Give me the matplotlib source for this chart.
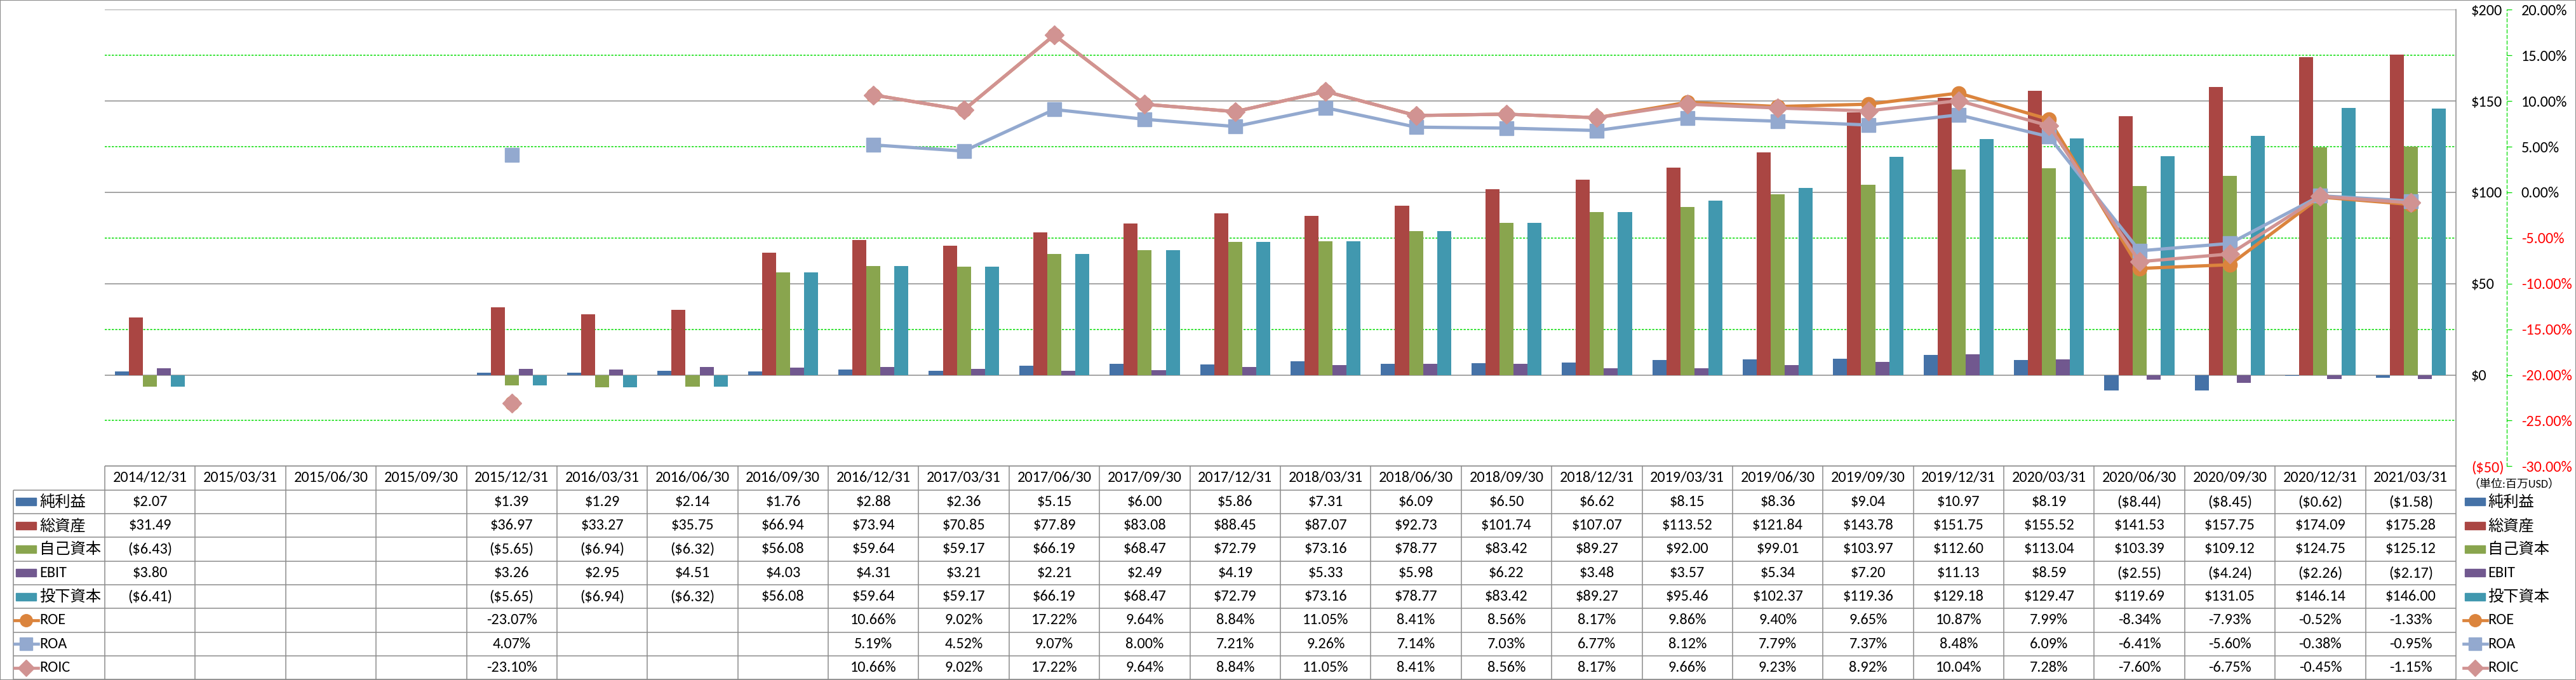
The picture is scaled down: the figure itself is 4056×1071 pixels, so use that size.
import numpy as np
import matplotlib
matplotlib.use("Agg")
import matplotlib.pyplot as plt
from matplotlib import font_manager
from matplotlib.lines import Line2D
from matplotlib.patches import Rectangle

nan = np.nan

dates = ["2014/12/31", "2015/03/31", "2015/06/30", "2015/09/30", "2015/12/31",
         "2016/03/31", "2016/06/30", "2016/09/30", "2016/12/31", "2017/03/31",
         "2017/06/30", "2017/09/30", "2017/12/31", "2018/03/31", "2018/06/30",
         "2018/09/30", "2018/12/31", "2019/03/31", "2019/06/30", "2019/09/30",
         "2019/12/31", "2020/03/31", "2020/06/30", "2020/09/30", "2020/12/31",
         "2021/03/31"]

# millions of USD
net_income = [2.07, nan, nan, nan, 1.39, 1.29, 2.14, 1.76, 2.88, 2.36, 5.15, 6.00, 5.86,
              7.31, 6.09, 6.50, 6.62, 8.15, 8.36, 9.04, 10.97, 8.19, -8.44, -8.45, -0.62, -1.58]
total_assets = [31.49, nan, nan, nan, 36.97, 33.27, 35.75, 66.94, 73.94, 70.85, 77.89, 83.08,
                88.45, 87.07, 92.73, 101.74, 107.07, 113.52, 121.84, 143.78, 151.75, 155.52,
                141.53, 157.75, 174.09, 175.28]
equity = [-6.43, nan, nan, nan, -5.65, -6.94, -6.32, 56.08, 59.64, 59.17, 66.19, 68.47, 72.79,
          73.16, 78.77, 83.42, 89.27, 92.00, 99.01, 103.97, 112.60, 113.04, 103.39, 109.12,
          124.75, 125.12]
ebit = [3.80, nan, nan, nan, 3.26, 2.95, 4.51, 4.03, 4.31, 3.21, 2.21, 2.49, 4.19, 5.33, 5.98,
        6.22, 3.48, 3.57, 5.34, 7.20, 11.13, 8.59, -2.55, -4.24, -2.26, -2.17]
invested = [-6.41, nan, nan, nan, -5.65, -6.94, -6.32, 56.08, 59.64, 59.17, 66.19, 68.47, 72.79,
            73.16, 78.77, 83.42, 89.27, 95.46, 102.37, 119.36, 129.18, 129.47, 119.69, 131.05,
            146.14, 146.00]

# percent
roe = [nan, nan, nan, nan, -23.07, nan, nan, nan, 10.66, 9.02, 17.22, 9.64, 8.84, 11.05, 8.41,
       8.56, 8.17, 9.86, 9.40, 9.65, 10.87, 7.99, -8.34, -7.93, -0.52, -1.33]
roa = [nan, nan, nan, nan, 4.07, nan, nan, nan, 5.19, 4.52, 9.07, 8.00, 7.21, 9.26, 7.14,
       7.03, 6.77, 8.12, 7.79, 7.37, 8.48, 6.09, -6.41, -5.60, -0.38, -0.95]
roic = [nan, nan, nan, nan, -23.10, nan, nan, nan, 10.66, 9.02, 17.22, 9.64, 8.84, 11.05, 8.41,
        8.56, 8.17, 9.66, 9.23, 8.92, 10.04, 7.28, -7.60, -6.75, -0.45, -1.15]

bar_names = ["純利益", "総資産", "自己資本", "EBIT", "投下資本"]
line_names = ["ROE", "ROA", "ROIC"]
money_ticks = [-50, 0, 50, 100, 150, 200]
pct_ticks = [-30, -25, -20, -15, -10, -5, 0, 5, 10, 15, 20]
unit_label = "（単位:百万USD）"

bar_colors = ["#4572A7", "#AA4643", "#89A54E", "#71588F", "#4198AF"]
line_colors = ["#DB843D", "#93A9CF", "#D19392"]
line_markers = ["o", "s", "D"]
marker_sizes = [16, 16, 15]
GRAY = "#8C8C8C"
LIME = "#00DD00"

# font: Calibri look-alike if present
try:
    font_manager.findfont("Carlito", fallback_to_default=False)
    BASE, FS = "Carlito", 17.5
except ValueError:
    BASE, FS = "Liberation Sans", 16
plt.rcParams["font.family"] = [BASE, "Noto Sans CJK JP", "DejaVu Sans"]
plt.rcParams["text.parse_math"] = False

# layout in pixels of the 4056x1071 picture
W, H = 4056, 1071
PLOT_L, PLOT_R, PLOT_T, PLOT_B = 165, 3867, 15.3, 734.3
TAB_B = 1070.3
LAB_L = 20.7

n = len(dates)
x = np.arange(n)
cat_w = (PLOT_R - PLOT_L) / n


def px_to_x(px):
    return (px - PLOT_L) / cat_w - 0.5


def money(v):
    if np.isnan(v):
        return ""
    return f"(${-v:.2f})" if v < 0 else f"${v:.2f}"


def pct(v):
    return "" if np.isnan(v) else f"{v:.2f}%"


fig = plt.figure(figsize=(W / 100, H / 100), dpi=100)
ax = fig.add_axes([PLOT_L / W, 1 - PLOT_B / H, (PLOT_R - PLOT_L) / W, (PLOT_B - PLOT_T) / H])
ax2 = ax.twinx()

# ── bars (left $ scale, labels drawn on the right) ──────────────────
bar_series = [net_income, total_assets, equity, ebit, invested]
bw = 0.155
for k, (vals, color) in enumerate(zip(bar_series, bar_colors)):
    ax.bar(x + (k - 2) * bw, vals, width=bw, color=color, zorder=2)

ax.set_xlim(-0.5, n - 0.5)
ax.set_ylim(-50, 200)
ax.set_xticks([])
ax.set_yticks(money_ticks, labels=[money(v).replace(".00", "") for v in money_ticks])
ax.set_yticks([-25, 25, 75, 125, 175], minor=True)
ax.yaxis.tick_right()
ax.tick_params(axis="y", which="both", length=0, pad=17.3, labelsize=FS)
ax.grid(which="major", axis="y", color=GRAY, lw=1.1)
ax.grid(which="minor", axis="y", color=LIME, lw=1.1, ls=(0, (2.2, 1.4)))
ax.set_axisbelow(True)
for side in ["left", "top", "bottom"]:
    ax.spines[side].set_visible(False)
ax.spines["right"].set_color(GRAY)
ax.spines["right"].set_linewidth(1.1)
for tick, v in zip(ax.yaxis.get_major_ticks(), money_ticks):
    tick.label1.set_color("red" if v < 0 else "black")
    tick.label2.set_color("red" if v < 0 else "black")

# ── lines (right % scale) ───────────────────────────────────────────
for vals, color, mk, ms in zip([roe, roa, roic], line_colors, line_markers, marker_sizes):
    ax2.plot(x, vals, color=color, lw=3.7, marker=mk, ms=ms, mec=color, mfc=color, zorder=3)
ax2.set_ylim(-30, 20)
ax2.set_yticks(pct_ticks, labels=[f"{v:.2f}%" for v in pct_ticks])
for side in ["left", "top", "bottom"]:
    ax2.spines[side].set_visible(False)
ax2.spines["right"].set_position(("outward", 57.4))
ax2.spines["right"].set_color(LIME)
ax2.spines["right"].set_linestyle((0, (4, 3)))
ax2.spines["right"].set_linewidth(0.9)
ax2.tick_params(axis="y", direction="out", length=5.5, width=0.9, color=LIME, pad=11, labelsize=FS)
for tick, v in zip(ax2.yaxis.get_major_ticks(), pct_ticks):
    tick.label2.set_color("red" if v < 0 else "black")

# ── data table under the plot ───────────────────────────────────────
tab = fig.add_axes([0, 1 - TAB_B / H, 1, (TAB_B - PLOT_B) / H])
tab.set_xlim(px_to_x(0), px_to_x(W))
tab.set_ylim(9, 0)
tab.axis("off")

left, right = -0.5, n - 0.5
lab_left = px_to_x(LAB_L)
line_kw = dict(color=GRAY, lw=1.1, clip_on=False)
tab.hlines(0, left, right, **line_kw)
tab.hlines(np.arange(1, 10), lab_left, right, **line_kw)
tab.vlines(np.arange(n + 1) - 0.5, 0, 9, **line_kw)
tab.vlines(lab_left, 1, 9, **line_kw)

for i, d in enumerate(dates):
    tab.text(i, 0.5, d, ha="center", va="center", fontsize=FS)

rows = [[money(v) for v in s] for s in bar_series] + [[pct(v) for v in s] for s in [roe, roa, roic]]
for r, cells in enumerate(rows):
    for i, s in enumerate(cells):
        tab.text(i, r + 1.5, s, ha="center", va="center", fontsize=FS)


def legend_key(r, key_l, text_x):
    yc = r + 1.5
    if r < len(bar_names):
        x0, x1 = px_to_x(key_l), px_to_x(key_l + 32)
        tab.add_patch(Rectangle((x0, yc - 0.16), x1 - x0, 0.32, color=bar_colors[r], clip_on=False))
        name = bar_names[r]
    else:
        j = r - len(bar_names)
        x0, x1 = px_to_x(key_l - 2), px_to_x(key_l + 35)
        tab.add_line(Line2D([x0, x1], [yc, yc], color=line_colors[j], lw=3.4, clip_on=False))
        tab.add_line(Line2D([(x0 + x1) / 2], [yc], marker=line_markers[j], ms=marker_sizes[j] - 2,
                            color=line_colors[j], clip_on=False))
        name = line_names[j]
    tab.text(px_to_x(text_x), yc, name, ha="left", va="center", fontsize=FS)


for r in range(8):
    legend_key(r, 25, 62)
    legend_key(r, 3881, 3917)

# unit note under the ($50) tick label
fig.text(3886 / W, 1 - 763 / H, unit_label, ha="left", va="center", fontsize=FS - 4.5)

fig.add_artist(Rectangle((0, 0), 1, 1, transform=fig.transFigure, fill=False, ec=GRAY, lw=1.5))

fig.savefig("out.png", dpi=100)
